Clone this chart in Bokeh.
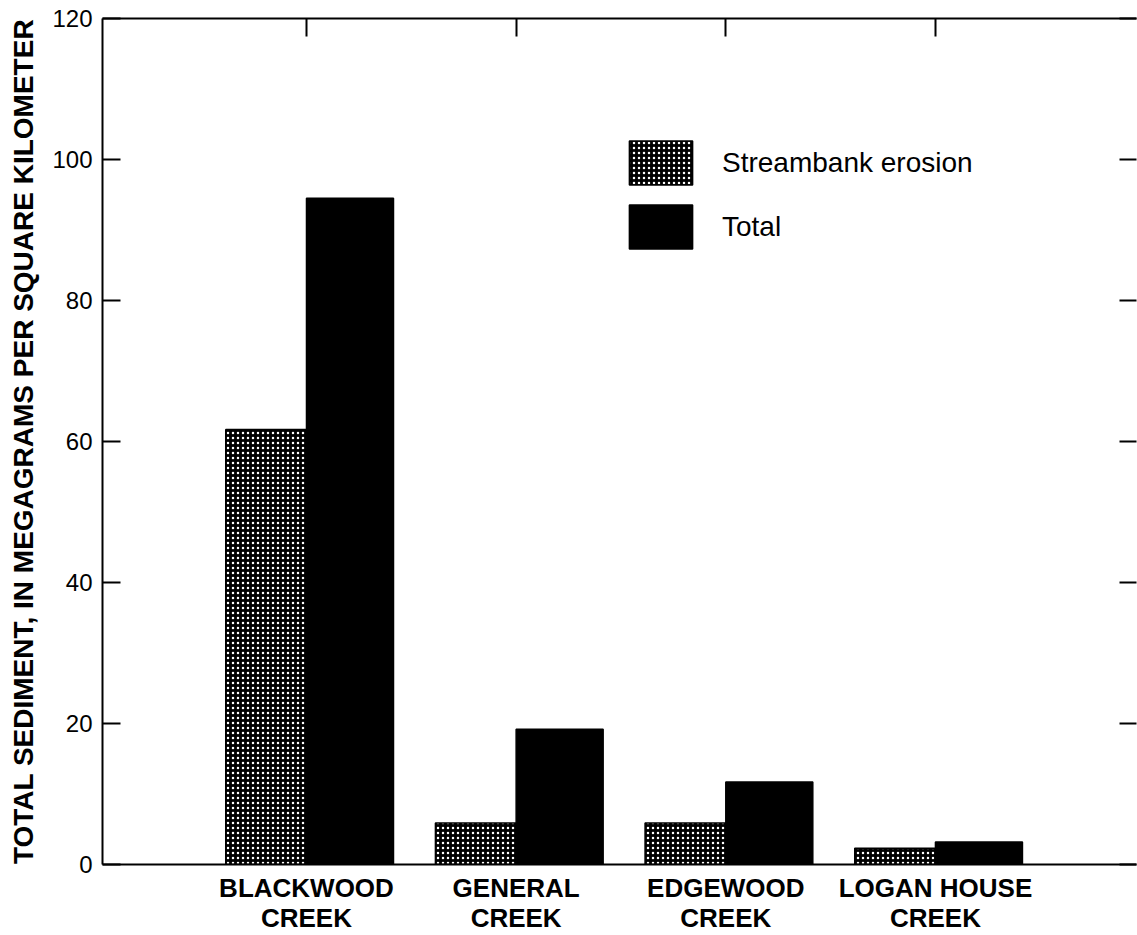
from bokeh.plotting import figure
from bokeh.models import Range1d, LinearAxis, FixedTicker, Legend, LegendItem, ColumnDataSource
from bokeh.transform import dodge
from bokeh.embed import file_html
from bokeh.resources import INLINE

# ---- data ----
creeks = ["BLACKWOOD\nCREEK", "GENERAL\nCREEK", "EDGEWOOD\nCREEK", "LOGAN HOUSE\nCREEK"]
streambank = [61.7, 5.9, 5.9, 2.3]
total = [94.5, 19.2, 11.7, 3.2]
y_ticks = [0, 20, 40, 60, 80, 100, 120]
y_label = "TOTAL SEDIMENT, IN MEGAGRAMS PER SQUARE KILOMETER"

pos = list(range(1, len(creeks) + 1))
src = ColumnDataSource(dict(pos=pos, streambank=streambank, total=total))

FONT = "Liberation Sans"

p = figure(width=1137, height=935, output_backend="svg", toolbar_location=None,
           x_range=Range1d(0.027, 4.959), y_range=Range1d(0, 120),
           x_axis_location=None, y_axis_location=None,
           min_border_left=102, min_border_top=18, min_border_right=1, min_border_bottom=60)
p.outline_line_color = None
p.grid.visible = False
p.background_fill_color = "white"

r1 = p.vbar(x=dodge("pos", -0.1925, range=p.x_range), top="streambank", width=0.385, source=src,
            fill_color="black", line_color="black", line_width=1.5,
            hatch_pattern="dot", hatch_color="white", hatch_scale=5, hatch_weight=2)
r2 = p.vbar(x=dodge("pos", 0.2075, range=p.x_range), top="total", width=0.415, source=src,
            fill_color="black", line_color="black", line_width=1.5)

# left axis
yl = LinearAxis(ticker=FixedTicker(ticks=y_ticks), axis_label=y_label)
yl.major_tick_in = 18
yl.major_tick_out = 0
yl.minor_tick_line_color = None
yl.axis_line_width = 2
yl.major_tick_line_width = 2
yl.major_label_text_font = FONT
yl.major_label_text_font_size = "24px"
yl.major_label_text_color = "black"
yl.major_label_standoff = 10
yl.axis_label_text_font = FONT
yl.axis_label_text_font_style = "bold"
yl.axis_label_text_font_size = "28px"
yl.axis_label_text_color = "black"
yl.axis_label_standoff = 10
p.add_layout(yl, "left")

# right axis (ticks only)
yr = LinearAxis(ticker=FixedTicker(ticks=y_ticks))
yr.major_tick_in = 17
yr.major_tick_out = 0
yr.minor_tick_line_color = None
yr.axis_line_color = None
yr.major_tick_line_width = 2
yr.major_label_text_font_size = "0px"
yr.major_label_standoff = 0
p.add_layout(yr, "right")

# bottom axis
xb = LinearAxis(ticker=FixedTicker(ticks=pos),
                major_label_overrides={i: c for i, c in zip(pos, creeks)})
xb.major_tick_in = 0
xb.major_tick_out = 0
xb.minor_tick_line_color = None
xb.axis_line_width = 2
xb.major_label_text_font = FONT
xb.major_label_text_font_style = "bold"
xb.major_label_text_font_size = "26px"
xb.major_label_text_color = "black"
xb.major_label_text_line_height = 1.0
xb.major_label_standoff = 8
p.add_layout(xb, "below")

# top axis (ticks at group centres)
xt = LinearAxis(ticker=FixedTicker(ticks=pos))
xt.major_tick_in = 18
xt.major_tick_out = 0
xt.minor_tick_line_color = None
xt.axis_line_width = 2
xt.major_tick_line_width = 2
xt.major_label_text_font_size = "0px"
xt.major_label_standoff = 0
p.add_layout(xt, "above")

legend = Legend(items=[LegendItem(label="Streambank erosion", renderers=[r1]),
                       LegendItem(label="Total", renderers=[r2])],
                location=(519, 610), glyph_width=79, glyph_height=55, spacing=9,
                padding=0, margin=0, label_standoff=22,
                label_text_font=FONT, label_text_font_size="28px", label_text_color="black",
                border_line_color=None, background_fill_alpha=0)
p.add_layout(legend)

open("out.html", "w").write(file_html(p, INLINE))
